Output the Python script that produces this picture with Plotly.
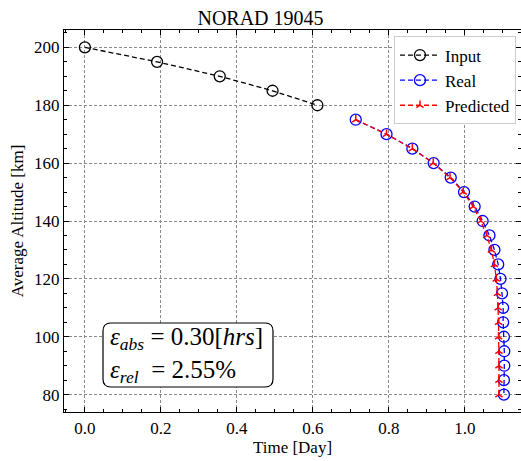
import plotly.graph_objects as go

input_x = [0.0, 0.19, 0.355, 0.494, 0.612]
input_y = [200, 195, 190, 185, 180]

alt_y = [175, 170, 165, 160, 155, 150, 145, 140, 135, 130, 125, 120, 115, 110, 105, 100, 95, 90, 85, 80]
real_x = [0.713, 0.794, 0.862, 0.918, 0.963, 0.998, 1.026, 1.047, 1.065, 1.078, 1.088, 1.094,
          1.098, 1.101, 1.101, 1.103, 1.104, 1.104, 1.103, 1.103]
pred_x = [0.713, 0.794, 0.862, 0.917, 0.961, 0.996, 1.022, 1.042, 1.058, 1.070, 1.078, 1.083,
          1.086, 1.088, 1.089, 1.089, 1.090, 1.090, 1.090, 1.090]

x_ticks = [0.0, 0.2, 0.4, 0.6, 0.8, 1.0]
x_labels = ["0.0", "0.2", "0.4", "0.6", "0.8", "1.0"]
y_ticks = [80, 100, 120, 140, 160, 180, 200]

FONT = "Liberation Serif, Times New Roman, serif"

fig = go.Figure()
fig.add_trace(go.Scatter(x=input_x, y=input_y, name="Input", mode="lines+markers",
                         line=dict(color="black", width=1.3, dash="5px,3px"),
                         marker=dict(symbol="circle-open", size=11, color="black",
                                     line=dict(width=1.3, color="black"))))
fig.add_trace(go.Scatter(x=real_x, y=alt_y, name="Real", mode="lines+markers",
                         line=dict(color="blue", width=1.3, dash="5px,3px"),
                         marker=dict(symbol="circle-open", size=11, color="blue",
                                     line=dict(width=1.3, color="blue"))))
fig.add_trace(go.Scatter(x=pred_x, y=alt_y, name="Predicted", mode="lines+markers",
                         line=dict(color="red", width=1.3, dash="5px,3px"),
                         marker=dict(symbol="y-up", size=6, color="red",
                                     line=dict(width=1.5, color="red"))))

axis_common = dict(
    showline=True, linecolor="black", linewidth=1.2, mirror="allticks",
    ticks="inside", ticklen=5, tickwidth=1, tickcolor="black",
    showgrid=True, gridcolor="#8a8a8a", gridwidth=0.7, griddash="3px,2px",
    zeroline=False,
    tickfont=dict(family=FONT, size=17, color="black"),
)

fig.update_xaxes(**axis_common, range=[-0.055, 1.148], tickvals=x_ticks, ticktext=x_labels,
                 minor=dict(ticks="inside", ticklen=3, tickcolor="black", dtick=0.05, tick0=0, showgrid=False),
                 title=dict(text="Time [Day]", font=dict(family=FONT, size=17, color="black"), standoff=4))
fig.update_yaxes(**axis_common, range=[74, 206], tickvals=y_ticks,
                 minor=dict(ticks="inside", ticklen=3, tickcolor="black", dtick=5, tick0=0, showgrid=False),
                 title=dict(text="Average Altitude [km]", font=dict(family=FONT, size=17, color="black"), standoff=6))

# rounded box for error annotation
x0, x1, y0, y1 = 103, 273, 323, 387
L, T, W, H = 64, 30, 457, 382
def px(x):
    return (x - L) / W
def py(y):
    return 1 - (y - T) / H
r = 8
rx, ry = r / W, r / H
path = (f"M {px(x0)+rx},{py(y0)} L {px(x1)-rx},{py(y0)} Q {px(x1)},{py(y0)} {px(x1)},{py(y0)-ry} "
        f"L {px(x1)},{py(y1)+ry} Q {px(x1)},{py(y1)} {px(x1)-rx},{py(y1)} "
        f"L {px(x0)+rx},{py(y1)} Q {px(x0)},{py(y1)} {px(x0)},{py(y1)+ry} "
        f"L {px(x0)},{py(y0)-ry} Q {px(x0)},{py(y0)} {px(x0)+rx},{py(y0)} Z")
fig.add_shape(type="path", path=path, xref="paper", yref="paper",
              line=dict(color="black", width=1.2), fillcolor="white", layer="above")
fig.add_annotation(xref="paper", yref="paper", x=px(108), y=py(355), xanchor="left", yanchor="middle",
                   showarrow=False, align="left",
                   text="<i>ε</i><sub><i>abs</i></sub> = 0.30[<i>hrs</i>]<br><i>ε</i><sub><i>rel</i></sub>  = 2.55%",
                   font=dict(family=FONT, size=25, color="black"))

fig.update_layout(
    width=521, height=461,
    margin=dict(l=L, r=521 - L - W, t=T, b=461 - T - H),
    plot_bgcolor="white", paper_bgcolor="white",
    font=dict(family=FONT, color="black"),
    title=dict(text="NORAD 19045", x=0.5, xanchor="center", y=0.962, yanchor="middle",
               font=dict(family=FONT, size=20, color="black")),
    legend=dict(x=0.989, y=0.983, xanchor="right", yanchor="top",
                bgcolor="white", bordercolor="#cccccc", borderwidth=1,
                font=dict(family=FONT, size=17, color="black"),
                itemwidth=40),
    showlegend=True,
)

fig.write_html("out.html")
